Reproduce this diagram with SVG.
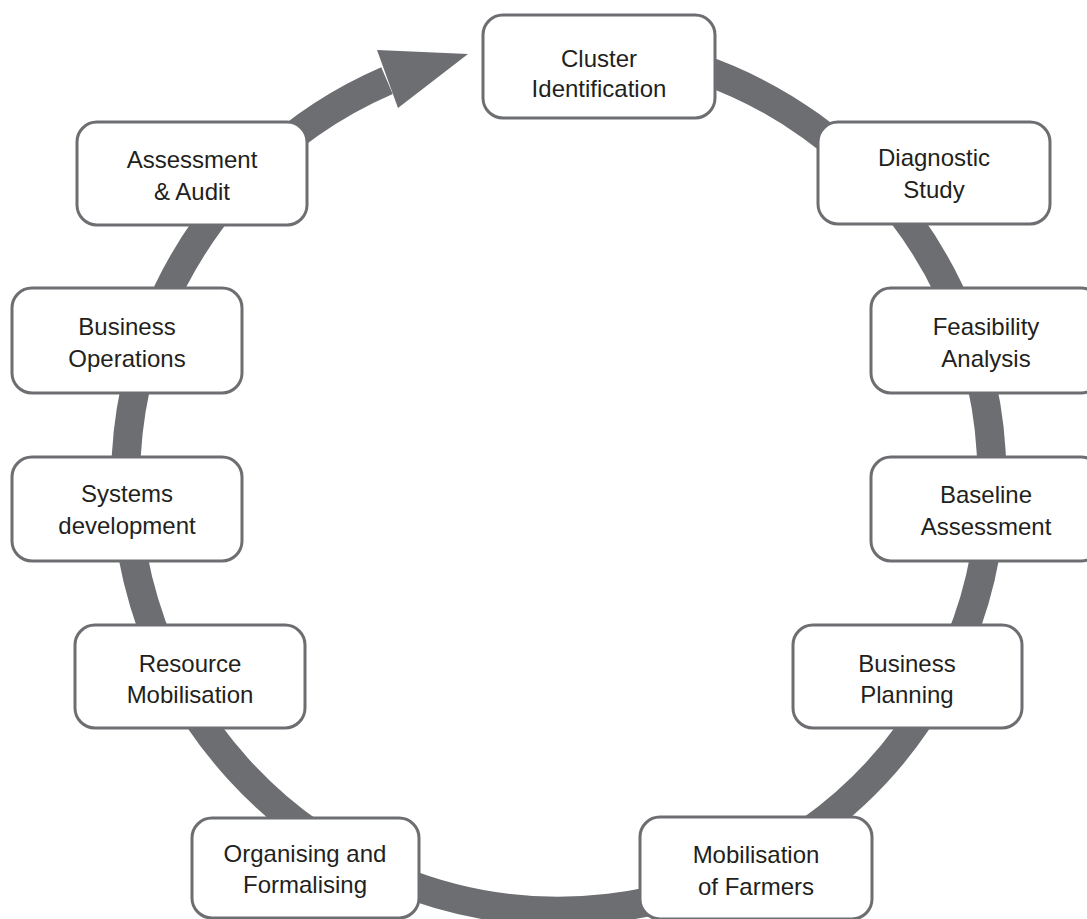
<svg xmlns="http://www.w3.org/2000/svg" width="1087" height="919" viewBox="0 0 1087 919">
<style>
.box{fill:#ffffff;stroke:#6d6e71;stroke-width:3}
.lbl{font-family:"Liberation Sans",Arial,sans-serif;font-size:24px;fill:#231f20;text-anchor:middle}
.ring{fill:none;stroke:#6d6e71;stroke-width:29}
.head{fill:#6d6e71}
</style>
<rect width="1087" height="919" fill="#ffffff"/>
<g id="connectors">
<path class="ring" d="M387,80.6 A433,433 0 1 0 634,51.6"/>
<polygon class="head" points="377,50 468,54 398,108"/>
</g>
<g id="node-cluster"><rect class="box" x="483" y="15" width="232" height="103" rx="20"/><text class="lbl"><tspan x="599" y="67">Cluster</tspan><tspan x="599" y="97">Identification</tspan></text></g>
<g id="node-diagnostic"><rect class="box" x="818" y="122" width="232" height="102" rx="20"/><text class="lbl"><tspan x="934" y="166">Diagnostic</tspan><tspan x="934" y="198">Study</tspan></text></g>
<g id="node-feasibility"><rect class="box" x="871" y="288" width="230" height="105" rx="20"/><text class="lbl"><tspan x="986" y="335">Feasibility</tspan><tspan x="986" y="367">Analysis</tspan></text></g>
<g id="node-baseline"><rect class="box" x="871" y="457" width="230" height="104" rx="20"/><text class="lbl"><tspan x="986" y="503">Baseline</tspan><tspan x="986" y="535">Assessment</tspan></text></g>
<g id="node-planning"><rect class="box" x="793" y="625" width="229" height="103" rx="20"/><text class="lbl"><tspan x="907" y="672">Business</tspan><tspan x="907" y="703">Planning</tspan></text></g>
<g id="node-mobilisation"><rect class="box" x="640" y="817" width="232" height="102" rx="20"/><text class="lbl"><tspan x="756" y="863">Mobilisation</tspan><tspan x="756" y="895">of Farmers</tspan></text></g>
<g id="node-organising"><rect class="box" x="192" y="818" width="227" height="100" rx="20"/><text class="lbl"><tspan x="305" y="862">Organising and</tspan><tspan x="305" y="893">Formalising</tspan></text></g>
<g id="node-resource"><rect class="box" x="75" y="625" width="230" height="103" rx="20"/><text class="lbl"><tspan x="190" y="672">Resource</tspan><tspan x="190" y="703">Mobilisation</tspan></text></g>
<g id="node-systems"><rect class="box" x="12" y="457" width="230" height="104" rx="20"/><text class="lbl"><tspan x="127" y="502">Systems</tspan><tspan x="127" y="534">development</tspan></text></g>
<g id="node-operations"><rect class="box" x="12" y="288" width="230" height="105" rx="20"/><text class="lbl"><tspan x="127" y="335">Business</tspan><tspan x="127" y="367">Operations</tspan></text></g>
<g id="node-assessment"><rect class="box" x="77" y="122" width="230" height="103" rx="20"/><text class="lbl"><tspan x="192" y="168">Assessment</tspan><tspan x="192" y="200">&amp; Audit</tspan></text></g>
</svg>
